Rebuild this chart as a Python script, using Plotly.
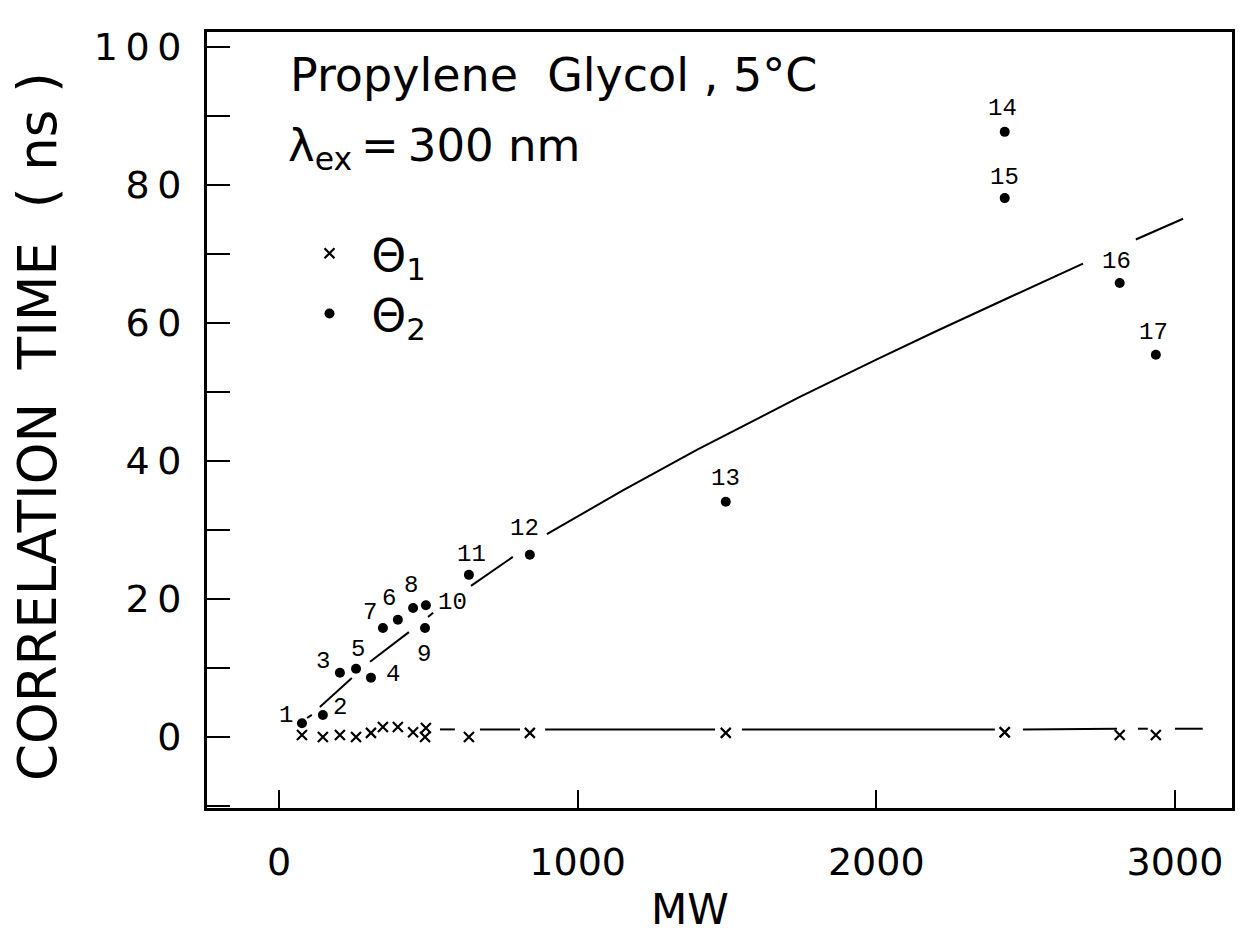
import plotly.graph_objects as go

# ---- data ----
compound = [str(i) for i in range(1, 18)]
mw = [77, 147, 204, 308, 258, 398, 348, 449, 489, 492, 636, 840, 1496, 2430, 2430, 2815, 2936]
theta2 = [2.0, 3.2, 9.3, 8.6, 9.9, 17.0, 15.8, 18.7, 15.8, 19.1, 23.5, 26.4, 34.1, 87.7, 78.1, 65.8, 55.4]
theta1 = [0.3, 0.0, 0.3, 0.6, 0.0, 1.45, 1.45, 0.7, 0.0, 1.3, 0.0, 0.6, 0.6, 0.7, 0.7, 0.3, 0.3]

# drawn trend curves (broken where the original leaves gaps)
fit2_mw = [94, 110, None, 137, 244, None, 305, 435, None, 499, 516, None, 643, 783, None,
           897, 1150, 1399, 1744, 2000, 2200, 2450, 2692, None, 2869, 3027]
fit2_ct = [2.75, 3.2, None, 4.35, 8.55, None, 10.9, 15.2, None, 17.4, 18.0, None, 21.9, 26.1, None,
           29.4, 35.7, 41.6, 49.3, 54.7, 58.8, 63.8, 68.6, None, 72.1, 75.1]
fit1_mw = [539, 589, None, 673, 807, None, 891, 1460, None, 1550, 2397, None, 2491, 2806, None,
           2876, 2909, None, 3000, 3093]
fit1_ct = [1.1, 1.1, None, 1.1, 1.1, None, 1.1, 1.1, None, 1.1, 1.1, None, 1.1, 1.2, None,
           1.2, 1.2, None, 1.2, 1.2]

x_ticks = [0, 1000, 2000, 3000]
y_ticks = [0, 20, 40, 60, 80, 100]
y_ticktext = ["0", "2\u20090", "4\u20090", "6\u20090", "8\u20090", "1\u20090\u20090"]

# label offsets (screen px) for the numeric point labels
lab_dx = [-16, 17, -17, 22, 2, -9, -13, -2, -1, 27, 3, -5, 0, -2, 0, -3, -2]
lab_dy = [-8, -7, -11, -3, -19, -21, -15, -22, 27, -3, -20, -26, -23, -23, -21, -21, -22]

FONT = "DejaVu Sans"
LABFONT = "Liberation Mono"

fig = go.Figure()
fig.add_trace(go.Scatter(x=fit2_mw, y=fit2_ct, mode="lines",
                         line=dict(color="black", width=2),
                         connectgaps=False, showlegend=False, hoverinfo="skip"))
fig.add_trace(go.Scatter(x=fit1_mw, y=fit1_ct, mode="lines", line=dict(color="black", width=2),
                         connectgaps=False, showlegend=False, hoverinfo="skip"))
fig.add_trace(go.Scatter(x=mw, y=theta1, mode="markers", name="\u2002Θ<sub>1</sub>",
                         marker=dict(symbol="x-thin", size=10, color="black",
                                     line=dict(color="black", width=2.2))))
fig.add_trace(go.Scatter(x=mw, y=theta2, mode="markers", name="\u2002Θ<sub>2</sub>",
                         marker=dict(symbol="circle", size=10, color="black")))

annotations = []
for c, x, y, dx, dy in zip(compound, mw, theta2, lab_dx, lab_dy):
    annotations.append(dict(x=x, y=y, xref="x", yref="y", text=c, showarrow=False,
                            xshift=dx, yshift=-dy, font=dict(family=LABFONT, size=24, color="black")))

annotations += [
    dict(text="Propylene  Glycol , 5°C", xref="paper", yref="paper", x=0.079, y=0.9446,
         xanchor="left", yanchor="middle", showarrow=False,
         font=dict(family=FONT, size=46, color="black")),
    dict(text="λ<sub>ex</sub>\u2009=\u2009300 nm", xref="paper", yref="paper", x=0.077, y=0.8505,
         xanchor="left", yanchor="middle", showarrow=False,
         font=dict(family=FONT, size=45, color="black")),
    dict(text="CORRELATION  TIME  ( ns )", xref="paper", yref="paper", x=-0.166, y=0.492,
         xanchor="center", yanchor="middle", textangle=-90, showarrow=False,
         font=dict(family=FONT, size=53, color="black")),
    dict(text="MW", xref="paper", yref="paper", x=0.471, y=-0.131,
         xanchor="center", yanchor="middle", showarrow=False,
         font=dict(family=FONT, size=42, color="black")),
]

fig.update_layout(
    width=1249, height=942,
    margin=dict(l=207, r=17, t=32, b=134),
    paper_bgcolor="white", plot_bgcolor="white",
    font=dict(family=FONT, color="black"),
    annotations=annotations,
    showlegend=True,
    legend=dict(x=0.100, y=0.760, xanchor="left", yanchor="top",
                font=dict(family=FONT, size=44, color="black"),
                bgcolor="rgba(0,0,0,0)", tracegroupgap=0),
)
fig.update_xaxes(range=[-241, 3191], tickvals=x_ticks, ticks="inside", ticklen=18, tickwidth=2,
                 tickcolor="black", showline=True, linewidth=3, linecolor="black", mirror=True,
                 showgrid=False, zeroline=False, ticklabelstandoff=18,
                 tickfont=dict(family=FONT, size=38, color="black"))
fig.update_yaxes(range=[-10.29, 102.17], tickvals=y_ticks, ticktext=y_ticktext, ticks="inside",
                 ticklen=23, tickwidth=2, tickcolor="black", showline=True, linewidth=3,
                 linecolor="black", mirror=True, showgrid=False, zeroline=False,
                 ticklabelstandoff=15,
                 minor=dict(dtick=10, tick0=0, ticks="inside", ticklen=23, tickwidth=2, tickcolor="black"),
                 tickfont=dict(family=FONT, size=38, color="black"))

fig.write_html("out.html")
